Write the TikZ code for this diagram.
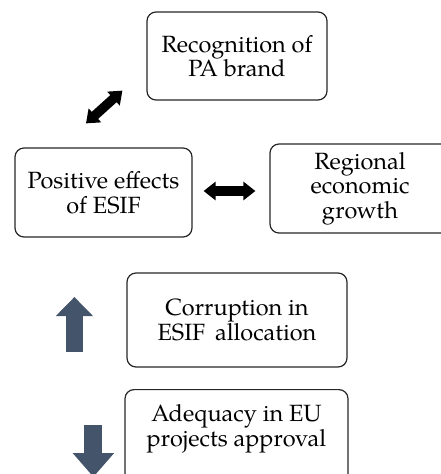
\documentclass[tikz,border=0pt]{standalone}
\usepackage{fontspec}
\setmainfont{TeX Gyre Pagella}
\usetikzlibrary{arrows.meta,calc}
\definecolor{slate}{RGB}{68,84,106}

\begin{document}
\begin{tikzpicture}[x=1pt,y=-1pt,
  box/.style={draw=black!85,line width=1.2pt,rounded corners=9pt,align=center,
    inner sep=0pt,font=\fontsize{23.5}{24.5}\selectfont},
  fat/.style={line width=9.5pt,
    {Triangle[width=18pt,length=12pt]}-{Triangle[width=18pt,length=12pt]}},
  upshaft/.style={draw=slate,line width=17pt,-{Triangle[width=36pt,length=19pt]}},
  downshaft/.style={draw=slate,line width=18pt,-{Triangle[width=40pt,length=24pt]}}]

\useasboundingbox (0,0) rectangle (441,474);
\clip (0,0) rectangle (441,474);

\node [box,minimum width=180pt,minimum height=88pt] (recog) at (237,56) {Recognition of\\PA brand};
\node [box,minimum width=177pt,minimum height=89pt] (pos) at (103.5,192.5) {Positive effects\\of ESIF};
\node [box,minimum width=180pt,minimum height=89pt] (reg) at (360,188.5) {Regional\\economic\\growth};
\node [box,minimum width=220pt,minimum height=94pt] (corr) at (237,320) {Corruption in\\ESIF\, allocation};
\node [box,minimum width=223pt,anchor=north,inner ysep=15pt,text depth=60pt] (adeq) at (236.5,389)
  {Adequacy in EU\\projects approval};

\draw [fat] ($(pos.east)+(11,-1.5)$) -- ($(reg.west |- pos.east)+(-14,-1.5)$);
\draw [fat] ($(pos.north)+(-17.5,-24)$) -- ($(recog.south west)+(-24,-10)$);

\draw [upshaft] ($(corr.west)+(-52,32)$) -- ($(corr.west)+(-52,-23)$);
\draw [downshaft] ($(adeq.north west)+(-31,36)$) -- ($(adeq.north west)+(-31,88)$);

\end{tikzpicture}
\end{document}
